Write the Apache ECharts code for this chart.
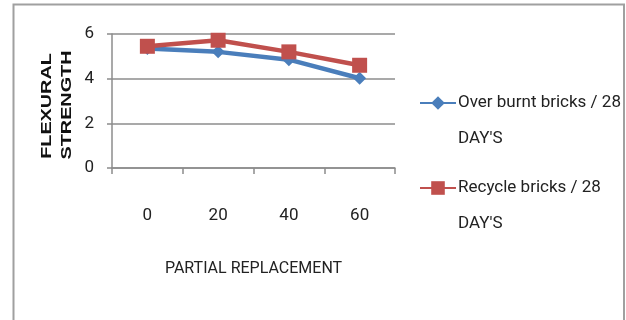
<!DOCTYPE html>
<html><head><meta charset="utf-8">
<script src="https://cdn.jsdelivr.net/npm/echarts@6/dist/echarts.min.js"></script>
<style>html,body{margin:0;padding:0;background:#fff}#c{width:626px;height:320px}</style>
</head><body><div id="c"></div>
<script>
var categories = ['0', '20', '40', '60'];
var overBurnt = [5.35, 5.2, 4.85, 4.02];
var recycle = [5.45, 5.72, 5.2, 4.6];
var yTicks = [0, 2, 4, 6];
var seriesNames = ["Over burnt bricks / 28 DAY'S", "Recycle bricks / 28 DAY'S"];
var legendFirstLines = ["Over burnt bricks / 28", "Recycle bricks / 28"];
var legendSecondLine = "DAY'S";
var yTitle = ['FLEXURAL', 'STRENGTH'];
var xTitle = 'PARTIAL REPLACEMENT';

var txtFont = "Roboto,'Liberation Sans Narrow',sans-serif";
var chart = echarts.init(document.getElementById('c'), null, {renderer: 'canvas'});
chart.setOption({
  animation: false,
  backgroundColor: '#fff',
  grid: {left: 112, top: 34, width: 283, height: 134, containLabel: false},
  graphic: [
    {type: 'polyline', shape: {points: [[13.5, 330], [13.5, 4.5], [624, 4.5], [624, 330]]},
     style: {stroke: '#a0a0a0', lineWidth: 2, fill: null}, silent: true},
    {type: 'text', x: 47, y: 106, rotation: Math.PI / 2, scaleX: 1.32,
     style: {text: yTitle[0], font: "bold 15px 'Liberation Sans',Arial,sans-serif", fill: '#111', textAlign: 'center', textVerticalAlign: 'middle'}, silent: true},
    {type: 'text', x: 67, y: 105, rotation: Math.PI / 2, scaleX: 1.32,
     style: {text: yTitle[1], font: "bold 15px 'Liberation Sans',Arial,sans-serif", fill: '#111', textAlign: 'center', textVerticalAlign: 'middle'}, silent: true},
    {type: 'text', x: 458, y: 139,
     style: {text: legendSecondLine, font: '17px ' + txtFont, fill: '#222', textAlign: 'left', textVerticalAlign: 'middle'}, silent: true},
    {type: 'text', x: 458, y: 224,
     style: {text: legendSecondLine, font: '17px ' + txtFont, fill: '#222', textAlign: 'left', textVerticalAlign: 'middle'}, silent: true}
  ],
  legend: {
    orient: 'vertical', left: 419, top: 93, itemGap: 65, padding: 0,
    itemWidth: 36, itemHeight: 17,
    textStyle: {fontFamily: txtFont, fontSize: 17, color: '#222', lineHeight: 20, padding: [0, 0, 0, -3]},
    formatter: function (n) { return legendFirstLines[seriesNames.indexOf(n)]; },
    data: seriesNames
  },
  xAxis: {
    type: 'category', data: categories, boundaryGap: true,
    name: xTitle, nameLocation: 'middle', nameGap: 93,
    nameTextStyle: {fontFamily: txtFont, fontSize: 16, color: '#222'},
    axisLine: {lineStyle: {color: '#8c8c8c', width: 1.5}},
    axisTick: {show: true, length: 6, lineStyle: {color: '#8c8c8c', width: 1.5}, alignWithLabel: false},
    axisLabel: {fontFamily: txtFont, fontSize: 17, color: '#222', margin: 39}
  },
  yAxis: {
    type: 'value', min: 0, max: 6, interval: 2,
    axisLine: {show: true, lineStyle: {color: '#8c8c8c', width: 1.5}},
    axisTick: {show: true, length: 5, lineStyle: {color: '#8c8c8c', width: 1.5}},
    axisLabel: {fontFamily: txtFont, fontSize: 17, color: '#222', margin: 18,
      formatter: function (v) { return yTicks.indexOf(v) >= 0 ? String(v) : ''; }},
    splitLine: {show: true, lineStyle: {color: '#8c8c8c', width: 1.5}}
  },
  series: [
    {name: seriesNames[0], type: 'line', data: overBurnt, symbol: 'diamond', symbolSize: 13,
     lineStyle: {color: '#4a7ebb', width: 4.5}, itemStyle: {color: '#4a7ebb'}},
    {name: seriesNames[1], type: 'line', data: recycle, symbol: 'rect', symbolSize: 15,
     lineStyle: {color: '#c0504d', width: 4.5}, itemStyle: {color: '#c0504d'}}
  ]
});
</script></body></html>
